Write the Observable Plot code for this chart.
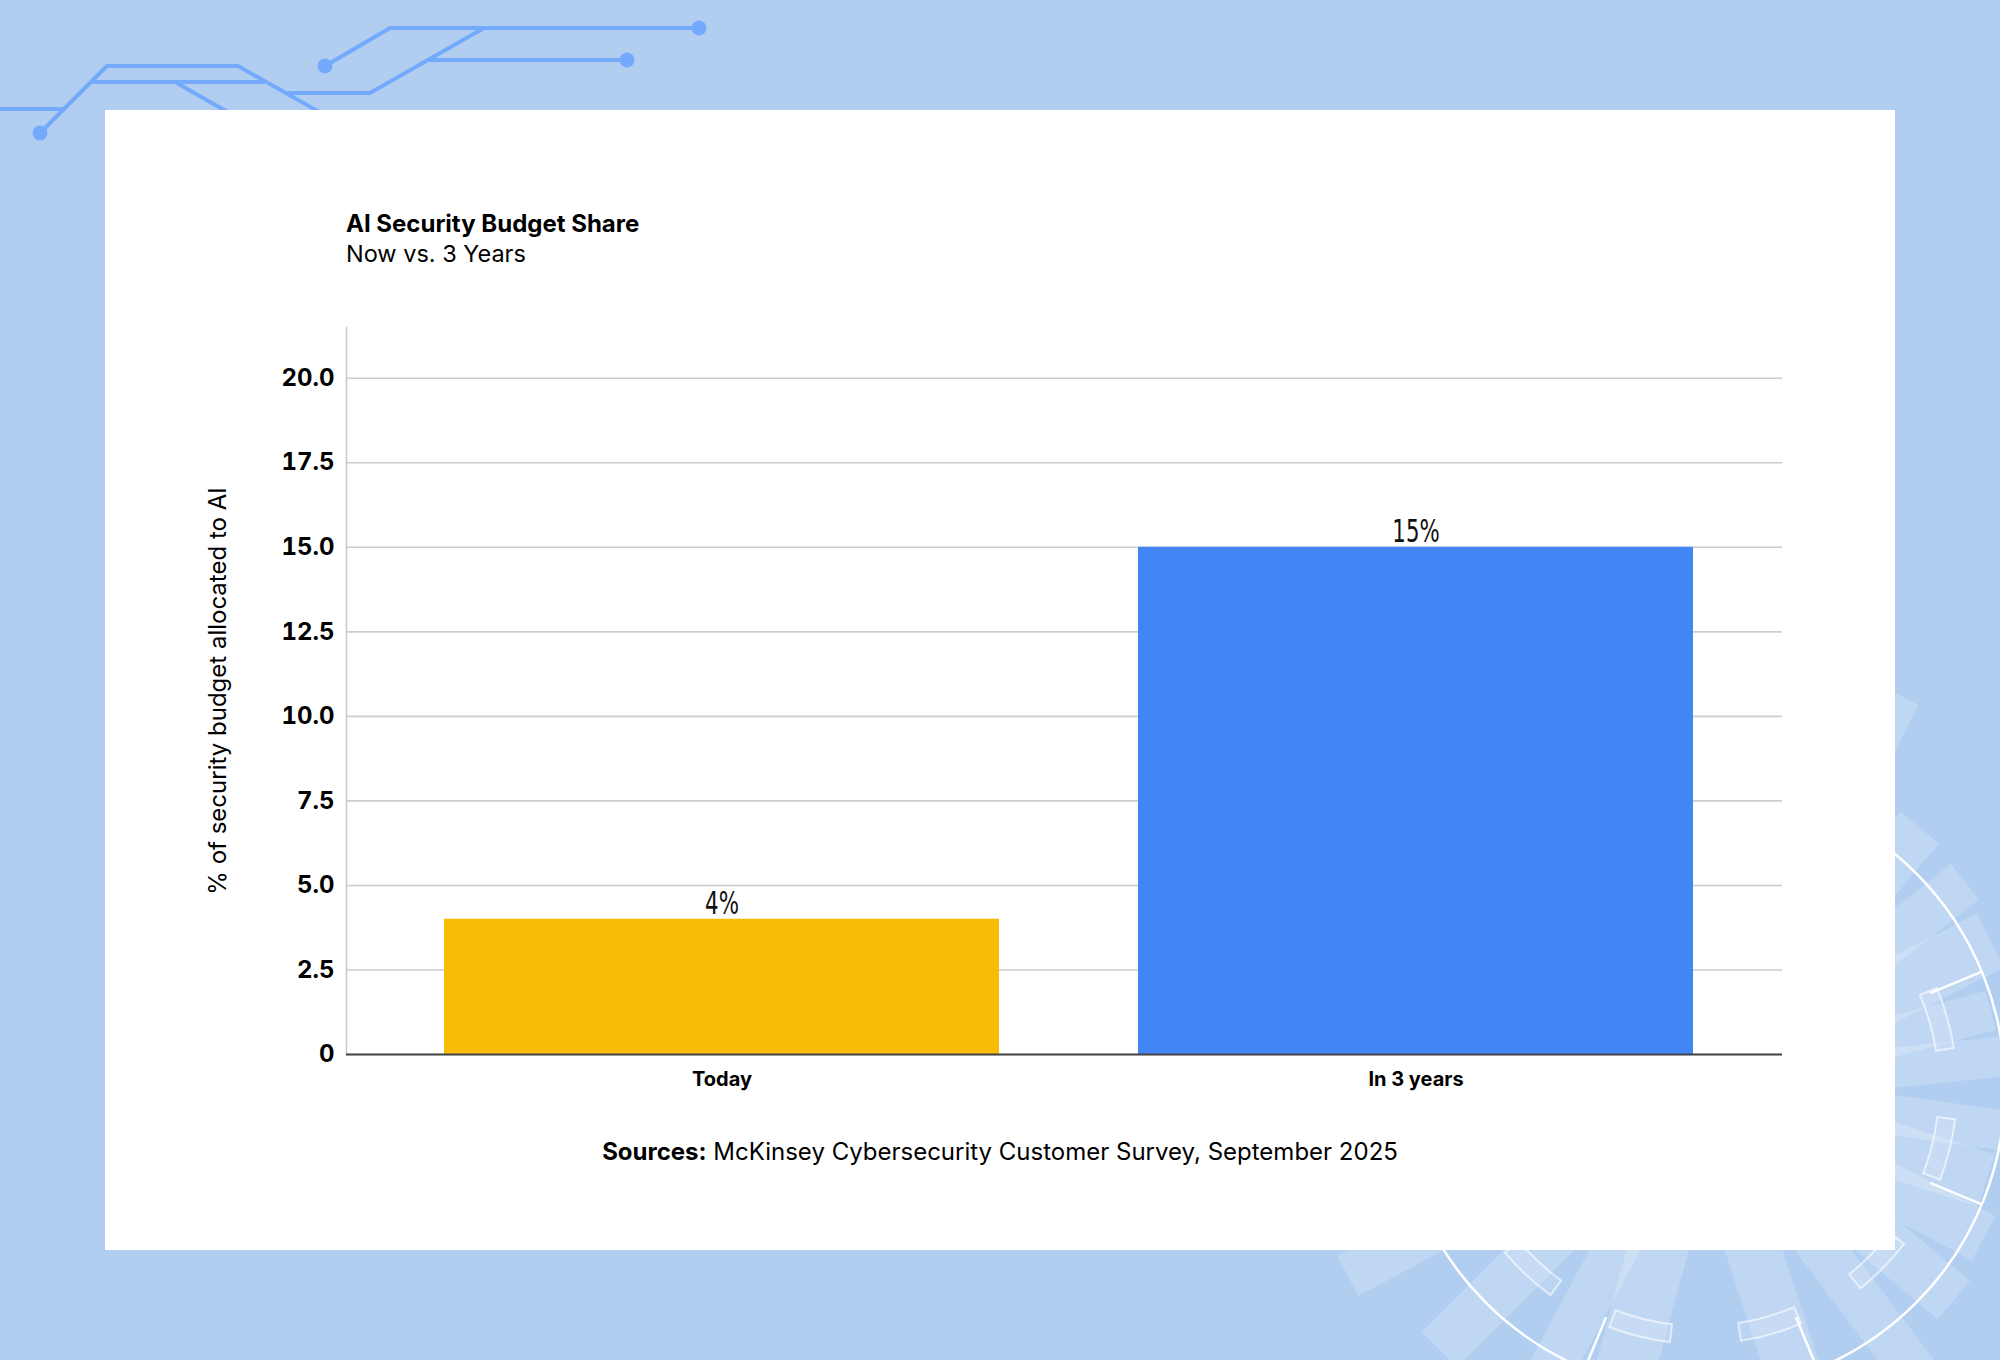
<!DOCTYPE html>
<html>
<head>
<meta charset="utf-8">
<script src="https://cdn.jsdelivr.net/npm/d3@7"></script>
<script src="https://cdn.jsdelivr.net/npm/@observablehq/plot@0.6"></script>
<style>
  html, body { margin: 0; padding: 0; }
  body { width: 2000px; height: 1360px; overflow: hidden; background: #B1CEF1; font-family: Inter, "Noto Sans", sans-serif; }
  #page { position: relative; width: 2000px; height: 1360px; }
  #deco { position: absolute; left: 0; top: 0; }
  #card { position: absolute; left: 105px; top: 110px; width: 1790px; height: 1140px; background: #ffffff; }
  #chart { position: absolute; left: 105px; top: 270px; }
  .t { position: absolute; white-space: nowrap; line-height: 1; color: #000; }
  #title { left: 346px; top: 211.5px; font-size: 24px; font-weight: 700; }
  #subtitle { left: 346px; top: 242px; font-size: 23.5px; font-weight: 400; }
  #source { left: 0; width: 2000px; text-align: center; top: 1139.5px; font-size: 24px; font-weight: 400; }
  #source b { font-weight: 700; }
</style>
</head>
<body>
<div id="page">
  <svg id="deco" width="2000" height="1360"></svg>
  <div id="card"></div>
  <div id="chart"></div>
  <div class="t" id="title"></div>
  <div class="t" id="subtitle"></div>
  <div class="t" id="source"></div>
</div>
<script>
// ---- data ----
const categories = ["Today", "In 3 years"];
const values = [4, 15];
const valueLabels = ["4%", "15%"];
const barColors = ["#F9BC05", "#4285F4"];
const yTicks = [0, 2.5, 5, 7.5, 10, 12.5, 15, 17.5, 20];
const yTickLabels = ["0", "2.5", "5.0", "7.5", "10.0", "12.5", "15.0", "17.5", "20.0"];
const yLabel = "% of security budget allocated to AI";
const titleText = "AI Security Budget Share";
const subtitleText = "Now vs. 3 Years";
const sourceLead = "Sources:";
const sourceText = "McKinsey Cybersecurity Customer Survey, September 2025";

// ---- texts ----
document.getElementById("title").textContent = titleText;
document.getElementById("subtitle").textContent = subtitleText;
const src = document.getElementById("source");
const b = document.createElement("b"); b.textContent = sourceLead;
src.appendChild(b);
src.appendChild(document.createTextNode(" " + sourceText));

// ---- background decoration ----
const deco = d3.select("#deco");
const circ = "#74AAFB";
const circuitPaths = [
  [[40,133],[107,66],[238,66],[330,118]],
  [[0,109],[64,109]],
  [[92,82],[265,82]],
  [[175,82],[233,115]],
  [[287,93],[370,93],[484,28]],
  [[325,66],[390,28],[699,28]],
  [[429,60],[627,60]]
];
const line = d3.line();
circuitPaths.forEach(p => deco.append("path").attr("d", line(p)).attr("fill","none")
  .attr("stroke", circ).attr("stroke-width", 4).attr("stroke-linejoin","round"));
[[40,133],[325,66],[699,28],[627,60]].forEach(([x,y]) =>
  deco.append("circle").attr("cx",x).attr("cy",y).attr("r",7.5).attr("fill",circ));

const cx = 1701, cy = 1088;
const pt = (a, r) => [cx + r*Math.cos(a*Math.PI/180), cy + r*Math.sin(a*Math.PI/180)];
const rays = [
  [-63,150,440,40],[-50,150,340,50],[-38,150,335,45],[-27,150,325,60],[-15,150,300,40],
  [-6,150,315,40],[8,150,310,40],[18,150,300,55],[28,150,320,50],[40,150,330,50],
  [53,150,380,45],[72,150,330,55],[105,150,320,60],[118,150,330,45],[135,150,370,50],[152,150,400,45]
];
rays.forEach(([a,r0,r1,w]) => {
  const n = a + 90;
  const off = (p, s) => [p[0] + s*w/2*Math.cos(n*Math.PI/180), p[1] + s*w/2*Math.sin(n*Math.PI/180)];
  const p0 = pt(a,r0), p1 = pt(a,r1);
  deco.append("polygon").attr("points", [off(p0,1),off(p1,1),off(p1,-1),off(p0,-1)].map(p=>p.join(",")).join(" "))
    .attr("fill","#ffffff").attr("fill-opacity",0.2);
});
const arcGen = d3.arc();
[-16,14,44.5,74,104,133,163].forEach(a => {
  deco.append("path").attr("transform",`translate(${cx},${cy})`)
    .attr("d", arcGen({innerRadius:238, outerRadius:256, startAngle:(a-7+90)*Math.PI/180, endAngle:(a+7+90)*Math.PI/180}))
    .attr("fill","#ffffff").attr("fill-opacity",0.12).attr("stroke","#ffffff").attr("stroke-opacity",0.6).attr("stroke-width",2);
});
deco.append("circle").attr("cx",cx).attr("cy",cy).attr("r",304).attr("fill","none").attr("stroke","#ffffff").attr("stroke-width",2.5);
[-157.5,-112.5,-67.5,-22.5,22.5,67.5,112.5,157.5].forEach(a => {
  deco.append("path").attr("d", line([pt(a,248), pt(a,304)])).attr("stroke","#ffffff").attr("stroke-width",2.5);
});

// ---- chart ----
const data = categories.map((c, i) => ({category: c, value: values[i], label: valueLabels[i]}));
const chart = Plot.plot({
  width: 1790,
  height: 870,
  marginLeft: 241,
  marginRight: 113,
  marginTop: 57,
  marginBottom: 86,
  style: {background: "transparent", fontFamily: "Inter, 'Noto Sans', sans-serif", color: "#000", overflow: "visible"},
  x: {domain: categories, paddingInner: 0.2, paddingOuter: 0.134, align: 0.526, label: null},
  y: {domain: [0, 21.5], label: null},
  color: {domain: categories, range: barColors},
  marks: [
    Plot.gridY(yTicks, {stroke: "#cccccc", strokeOpacity: 1, strokeWidth: 1.6}),
    Plot.frame({anchor: "left", stroke: "#cccccc", strokeWidth: 1.6}),
    Plot.barY(data, {x: "category", y: "value", fill: "category"}),
    Plot.ruleY([0], {stroke: "#444444", strokeWidth: 2}),
    Plot.text(data, {x: "category", y: "value", text: "label", dy: -5, lineAnchor: "bottom",
      fontSize: 32, fontFamily: "'DejaVu Sans Condensed', 'Liberation Sans Narrow', Roboto, sans-serif", fill: "#111111",
      className: "value-label"}),
    Plot.axisY({ticks: yTicks, tickFormat: d => yTickLabels[yTicks.indexOf(d)], tickSize: 0, tickPadding: 12,
      fontSize: 24, fontWeight: "bold", label: null}),
    Plot.text([yLabel], {frameAnchor: "left", rotate: -90, dx: -138, textAnchor: "middle", lineAnchor: "top",
      fontSize: 24, fill: "#000000"}),
    Plot.axisX({tickSize: 0, tickPadding: 17, fontSize: 20, fontWeight: "bold", label: null})
  ]
});
document.getElementById("chart").appendChild(chart);

// narrow the value labels to the condensed look of the original
const labelNodes = chart.querySelectorAll(".value-label text");
labelNodes.forEach(t => {
  const w = t.getComputedTextLength();
  t.setAttribute("textLength", (w * 0.74).toFixed(1));
  t.setAttribute("lengthAdjust", "spacingAndGlyphs");
});
</script>
</body>
</html>
